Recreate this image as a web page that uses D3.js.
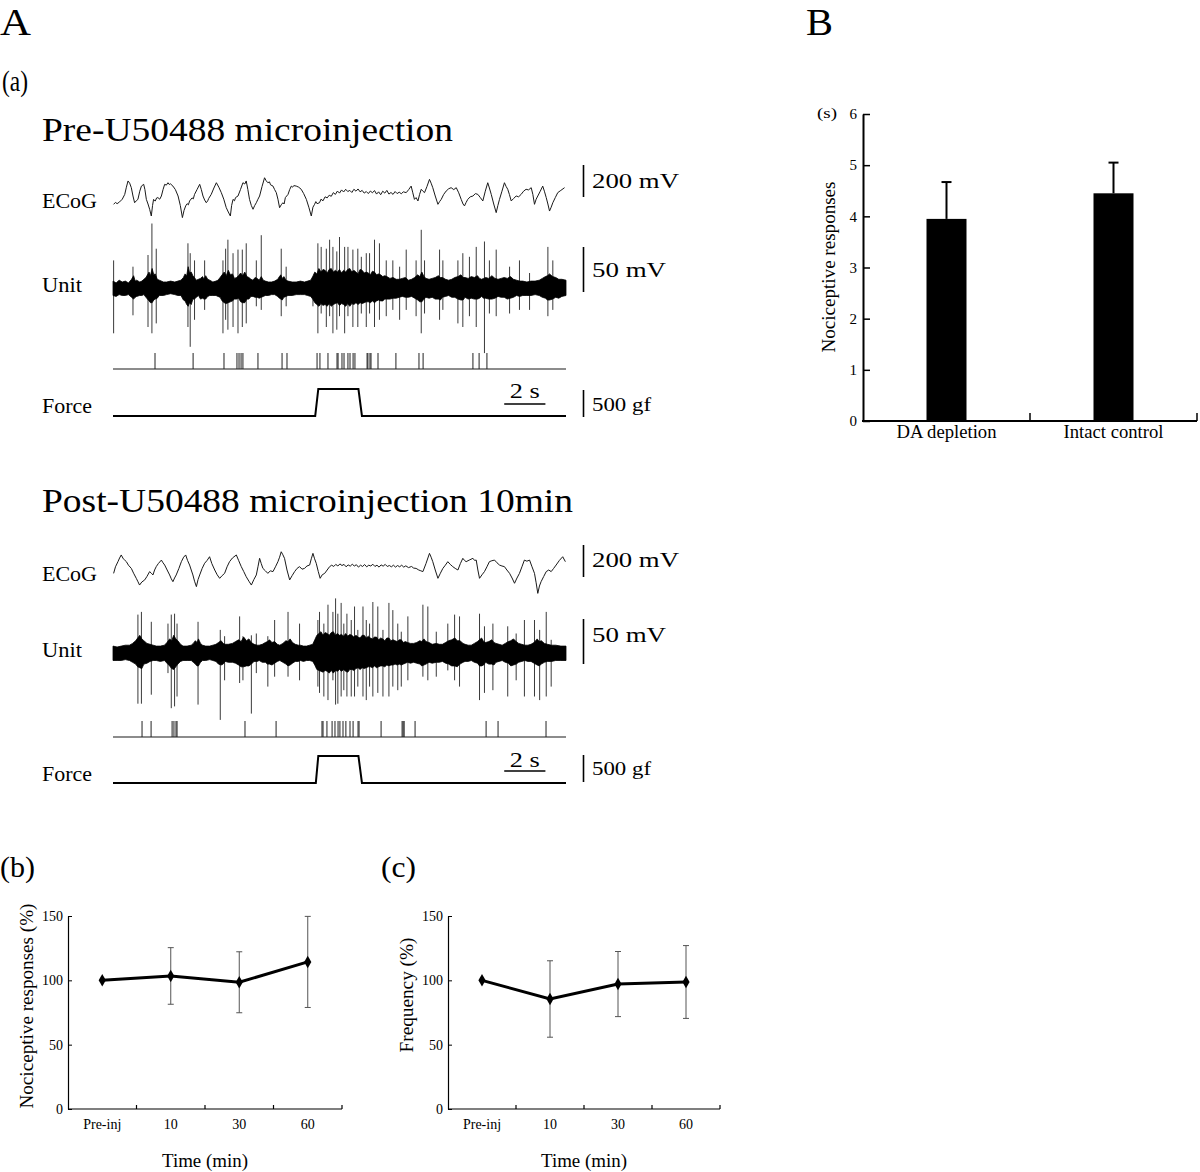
<!DOCTYPE html>
<html><head><meta charset="utf-8">
<script src="https://cdn.jsdelivr.net/npm/d3@7"></script>
<style>
body{margin:0;background:#fff}
svg{display:block}
text{font-family:"Liberation Serif","Times New Roman",serif;fill:#000}
</style>
</head><body>
<svg id="c" width="1200" height="1172"></svg>
<script>
// ---------------- DATA ----------------
// ECoG traces: [time (s), voltage (mV)]
const ecogPre = [[0.03,-52],[0.12,-40],[0.2,-48],[0.32,-37],[0.45,-20],[0.57,10],[0.65,55],[0.73,94],[0.81,80],[0.89,52],[0.97,0],[1.05,-42],[1.13,-30],[1.21,-21],[1.3,30],[1.38,62],[1.49,73],[1.55,40],[1.62,-21],[1.7,-50],[1.78,-83],[1.86,-125],[1.92,-60],[1.97,-21],[2.05,-32],[2.12,-12],[2.18,-10],[2.27,-20],[2.35,0],[2.43,40],[2.51,73],[2.59,68],[2.67,83],[2.73,72],[2.79,76],[2.91,62],[3.03,40],[3.16,0],[3.27,-60],[3.37,-135],[3.45,-90],[3.53,-62],[3.6,-48],[3.66,-55],[3.72,-31],[3.84,-12],[3.9,-18],[3.96,10],[4.08,40],[4.21,73],[4.29,40],[4.37,0],[4.45,-25],[4.53,-42],[4.6,-30],[4.65,-15],[4.77,10],[4.9,50],[5.02,83],[5.14,55],[5.26,21],[5.38,-20],[5.5,-73],[5.6,-100],[5.7,-125],[5.76,-60],[5.83,-21],[5.9,-30],[5.95,-10],[6.07,0],[6.19,40],[6.31,83],[6.4,75],[6.47,94],[6.55,40],[6.63,-21],[6.72,-60],[6.8,-83],[6.88,-60],[6.96,-42],[7.04,-20],[7.12,0],[7.24,60],[7.36,114],[7.44,95],[7.52,83],[7.6,88],[7.65,70],[7.77,62],[7.85,40],[7.93,21],[8.01,-20],[8.09,-73],[8.17,-55],[8.25,-42],[8.31,-50],[8.37,-10],[8.5,10],[8.58,40],[8.66,62],[8.72,55],[8.78,65],[8.9,62],[9.02,55],[9.14,42],[9.26,15],[9.39,-21],[9.51,-70],[9.63,-125],[9.71,-70],[9.79,-52],[9.85,-35],[9.91,-48],[10.03,-42],[10.1,-20],[10.2,-30],[10.3,-5],[10.4,-12],[10.5,5],[10.6,-2],[10.7,21],[10.8,10],[10.9,31],[11.0,18],[11.1,38],[11.2,25],[11.3,42],[11.4,28],[11.5,35],[11.6,22],[11.7,42],[11.8,30],[11.9,44],[12.0,26],[12.1,35],[12.2,18],[12.3,28],[12.4,15],[12.5,31],[12.6,20],[12.7,34],[12.8,12],[12.9,26],[13.0,8],[13.1,30],[13.2,18],[13.3,35],[13.4,12],[13.5,22],[13.6,10],[13.7,28],[13.8,15],[13.9,24],[14.0,14],[14.1,26],[14.24,21],[14.36,40],[14.48,62],[14.56,20],[14.64,-21],[14.72,-10],[14.81,-31],[14.89,10],[14.97,42],[15.05,30],[15.13,21],[15.25,60],[15.37,104],[15.45,80],[15.53,52],[15.65,0],[15.78,-52],[15.86,-35],[15.94,-21],[16.06,10],[16.18,31],[16.3,45],[16.42,52],[16.55,40],[16.67,52],[16.79,20],[16.91,-21],[17.0,-50],[17.07,-62],[17.15,-40],[17.23,-21],[17.35,-5],[17.48,0],[17.6,15],[17.72,10],[17.84,-10],[17.96,-31],[18.08,30],[18.2,83],[18.28,50],[18.37,10],[18.49,-50],[18.61,-104],[18.69,-60],[18.77,-21],[18.89,30],[19.01,83],[19.09,60],[19.17,42],[19.25,10],[19.34,-31],[19.46,-15],[19.58,0],[19.7,-5],[19.82,10],[19.94,30],[20.06,42],[20.18,38],[20.31,52],[20.39,10],[20.47,-52],[20.55,-20],[20.63,0],[20.75,30],[20.87,62],[20.95,30],[21.04,-10],[21.12,-50],[21.2,-94],[21.28,-70],[21.36,-42],[21.48,-10],[21.6,21],[21.75,35],[21.93,52]];

const ecogPost = [[0.03,-21],[0.12,20],[0.24,52],[0.32,75],[0.4,94],[0.5,70],[0.57,62],[0.65,52],[0.75,30],[0.89,10],[1.0,-20],[1.13,-52],[1.2,-70],[1.29,-94],[1.4,-75],[1.54,-62],[1.65,-40],[1.78,-10],[1.86,-20],[1.94,-31],[2.02,0],[2.1,21],[2.2,40],[2.35,62],[2.43,45],[2.51,31],[2.63,0],[2.75,-31],[2.83,-55],[2.91,-73],[2.99,-50],[3.07,-31],[3.2,10],[3.32,52],[3.43,80],[3.53,94],[3.62,60],[3.72,31],[3.8,0],[3.88,-31],[3.96,-70],[4.05,-104],[4.13,-60],[4.21,-31],[4.33,10],[4.45,42],[4.57,60],[4.69,83],[4.8,40],[4.94,0],[5.06,-30],[5.18,-52],[5.3,-35],[5.42,-21],[5.54,20],[5.66,52],[5.8,75],[5.99,94],[6.1,60],[6.23,21],[6.35,-10],[6.47,-42],[6.6,-70],[6.72,-94],[6.84,-60],[6.96,-31],[7.04,20],[7.12,73],[7.2,40],[7.28,10],[7.4,-5],[7.52,-21],[7.64,-5],[7.77,-10],[7.89,20],[8.01,52],[8.09,80],[8.17,114],[8.25,95],[8.33,73],[8.45,0],[8.58,-62],[8.7,-35],[8.82,-10],[8.94,10],[9.06,21],[9.18,5],[9.3,10],[9.42,25],[9.55,31],[9.63,70],[9.71,104],[9.79,70],[9.87,42],[9.97,-10],[10.06,-52],[10.16,-30],[10.28,-21],[10.4,0],[10.52,21],[10.62,30],[10.72,22],[10.82,35],[10.92,25],[11.02,38],[11.12,28],[11.22,35],[11.32,20],[11.42,32],[11.52,24],[11.62,36],[11.72,25],[11.82,33],[11.92,18],[12.02,30],[12.12,22],[12.22,34],[12.32,20],[12.42,30],[12.52,25],[12.62,36],[12.72,22],[12.82,30],[12.92,18],[13.02,32],[13.12,24],[13.22,35],[13.32,22],[13.42,28],[13.52,20],[13.62,30],[13.72,18],[13.82,28],[13.92,20],[14.02,30],[14.12,18],[14.22,26],[14.35,15],[14.5,22],[14.6,12],[14.72,10],[14.85,0],[14.95,-5],[15.05,-10],[15.2,40],[15.37,104],[15.45,80],[15.53,52],[15.65,0],[15.78,-52],[15.9,-20],[16.02,10],[16.14,30],[16.26,52],[16.38,35],[16.5,21],[16.62,10],[16.75,0],[16.87,40],[16.99,73],[17.07,60],[17.15,52],[17.3,62],[17.48,73],[17.56,60],[17.64,62],[17.72,0],[17.8,-52],[17.92,-30],[18.04,-10],[18.16,20],[18.28,52],[18.4,58],[18.53,62],[18.65,45],[18.77,31],[18.89,25],[19.01,21],[19.13,0],[19.26,-21],[19.38,-50],[19.5,-83],[19.62,-50],[19.74,-21],[19.86,20],[19.98,62],[20.1,55],[20.23,62],[20.35,20],[20.47,-21],[20.55,-80],[20.63,-146],[20.71,-100],[20.79,-73],[20.92,-40],[21.04,-10],[21.16,0],[21.28,-10],[21.4,10],[21.52,31],[21.68,60],[21.84,83],[21.97,52]];

// Unit background activity envelope: [time (s), upper (mV), lower (mV)]
const unitEnvPre = [[0,8,8],[0.15,6,9],[0.3,9,7],[0.45,7,8],[0.6,8,8],[0.75,6,7],[0.9,10,10],[1.0,14,12],[1.08,8,10],[1.15,9,9],[1.3,7,8],[1.4,8,8],[1.5,10,7],[1.6,12,10],[1.75,18,14],[1.82,14,16],[1.9,22,16],[1.98,15,13],[2.05,16,12],[2.15,10,11],[2.25,9,8],[2.45,7,8],[2.6,7,7],[2.8,8,6],[3.0,7,7],[3.15,8,8],[3.3,9,8],[3.42,12,13],[3.5,16,14],[3.58,14,18],[3.65,24,20],[3.72,17,16],[3.8,18,18],[3.88,14,12],[3.95,12,12],[4.05,9,10],[4.15,10,8],[4.25,11,12],[4.35,13,11],[4.42,10,12],[4.5,14,12],[4.6,10,9],[4.7,9,8],[4.85,7,8],[5.0,8,8],[5.1,9,9],[5.2,12,10],[5.3,15,14],[5.4,18,16],[5.5,14,17],[5.6,20,16],[5.7,15,15],[5.8,16,14],[5.9,11,12],[6.0,12,12],[6.1,14,11],[6.2,17,15],[6.3,14,16],[6.4,18,16],[6.5,13,12],[6.6,12,12],[6.7,10,9],[6.8,9,9],[6.9,12,10],[7.0,11,10],[7.1,9,11],[7.2,13,10],[7.3,9,9],[7.4,8,8],[7.55,7,8],[7.7,7,7],[7.85,8,7],[8.0,10,9],[8.08,13,11],[8.15,15,12],[8.22,11,13],[8.3,13,10],[8.4,9,9],[8.5,8,8],[8.7,7,8],[8.9,7,7],[9.1,8,7],[9.3,7,7],[9.45,8,8],[9.6,9,9],[9.7,13,12],[9.8,18,16],[9.9,16,18],[10.0,22,20],[10.1,18,17],[10.2,21,19],[10.3,20,18],[10.4,17,20],[10.5,21,17],[10.6,22,20],[10.7,18,18],[10.8,20,17],[10.9,18,16],[11.0,21,19],[11.1,17,17],[11.2,20,18],[11.3,18,20],[11.4,21,17],[11.5,22,20],[11.6,18,17],[11.7,20,18],[11.8,18,16],[11.9,16,18],[12.0,21,16],[12.1,20,17],[12.2,17,16],[12.3,18,15],[12.4,17,15],[12.5,15,16],[12.6,19,14],[12.7,18,16],[12.8,15,14],[12.9,16,13],[13.0,15,14],[13.1,13,14],[13.2,14,12],[13.3,13,12],[13.45,11,12],[13.6,12,11],[13.75,10,11],[13.9,10,10],[14.05,11,9],[14.2,12,10],[14.35,9,10],[14.5,10,9],[14.65,12,11],[14.8,15,13],[14.9,13,15],[15.0,18,15],[15.1,13,12],[15.2,11,10],[15.35,10,11],[15.5,11,10],[15.65,12,12],[15.8,14,12],[15.9,12,13],[16.0,12,10],[16.15,10,9],[16.3,9,8],[16.45,10,10],[16.6,12,10],[16.75,13,12],[16.9,15,13],[17.0,12,13],[17.1,12,10],[17.25,11,12],[17.4,13,11],[17.55,12,12],[17.7,14,12],[17.8,11,11],[17.9,10,9],[18.0,11,11],[18.1,12,11],[18.25,11,12],[18.4,14,12],[18.55,11,11],[18.7,10,9],[18.85,11,10],[19.0,12,10],[19.15,11,12],[19.3,13,11],[19.45,10,10],[19.6,9,8],[19.75,8,9],[19.9,8,8],[20.1,7,8],[20.3,8,8],[20.5,8,7],[20.7,9,8],[20.85,11,10],[21.0,13,11],[21.1,14,13],[21.2,16,13],[21.35,13,12],[21.5,12,10],[21.65,10,11],[21.8,10,9],[22.0,9,8]];

const unitEnvPost = [[0,8,8],[0.2,7,8],[0.4,8,8],[0.6,9,7],[0.8,9,8],[0.95,11,10],[1.1,14,12],[1.2,17,15],[1.3,20,16],[1.4,16,17],[1.5,14,12],[1.65,11,11],[1.8,10,9],[1.95,9,8],[2.1,8,8],[2.3,8,9],[2.5,9,8],[2.62,12,11],[2.75,16,14],[2.85,14,17],[2.95,20,18],[3.05,16,15],[3.15,14,12],[3.28,10,9],[3.4,8,8],[3.6,8,8],[3.8,9,8],[3.9,11,10],[4.0,14,12],[4.08,12,14],[4.15,16,14],[4.25,11,10],[4.35,9,8],[4.5,8,8],[4.7,8,7],[4.85,9,8],[5.0,10,9],[5.12,12,12],[5.25,14,13],[5.35,11,12],[5.45,10,9],[5.6,10,10],[5.8,11,10],[5.95,13,11],[6.1,15,13],[6.22,13,15],[6.35,18,15],[6.48,14,14],[6.6,16,14],[6.72,12,12],[6.85,10,9],[7.0,9,9],[7.1,9,8],[7.25,10,10],[7.4,12,10],[7.5,13,12],[7.6,15,12],[7.72,12,13],[7.85,13,11],[7.98,10,9],[8.1,9,8],[8.25,11,10],[8.4,14,12],[8.5,13,14],[8.6,16,13],[8.72,12,11],[8.85,10,9],[9.0,9,9],[9.1,9,8],[9.25,8,9],[9.4,8,8],[9.55,9,8],[9.7,10,9],[9.8,15,13],[9.9,20,18],[10.0,22,19],[10.1,24,20],[10.2,20,21],[10.3,23,19],[10.4,22,20],[10.5,20,22],[10.6,23,19],[10.7,24,22],[10.8,20,19],[10.9,22,20],[11.0,20,18],[11.1,21,20],[11.2,19,18],[11.3,22,20],[11.4,19,21],[11.5,21,18],[11.6,20,18],[11.7,18,19],[11.8,20,17],[11.9,18,16],[12.0,17,18],[12.1,20,16],[12.2,20,17],[12.3,17,16],[12.4,19,15],[12.5,17,15],[12.6,16,16],[12.7,18,14],[12.8,18,16],[12.9,15,15],[13.0,17,14],[13.1,16,14],[13.2,14,15],[13.3,17,13],[13.4,17,14],[13.5,14,13],[13.6,15,13],[13.7,14,12],[13.8,13,13],[13.9,15,12],[14.0,15,13],[14.1,12,12],[14.2,13,11],[14.3,12,10],[14.45,11,11],[14.6,11,10],[14.75,12,11],[14.9,14,12],[15.0,13,14],[15.1,16,13],[15.2,13,12],[15.35,12,10],[15.5,10,11],[15.7,11,10],[15.85,10,10],[16.0,10,9],[16.15,12,11],[16.3,14,12],[16.45,15,14],[16.6,17,14],[16.72,14,15],[16.85,14,12],[17.0,11,10],[17.1,10,9],[17.25,9,9],[17.4,9,8],[17.55,11,10],[17.7,13,11],[17.8,15,14],[17.9,17,14],[18.0,13,13],[18.1,12,10],[18.25,13,12],[18.4,15,12],[18.5,12,13],[18.6,11,10],[18.75,10,9],[18.9,9,8],[19.05,11,10],[19.2,13,11],[19.32,14,14],[19.45,16,13],[19.58,13,12],[19.7,11,10],[19.85,10,9],[20.0,9,8],[20.15,9,9],[20.3,10,9],[20.45,12,11],[20.6,16,13],[20.7,13,14],[20.8,14,12],[20.95,11,10],[21.1,10,9],[21.3,9,9],[21.5,9,8],[21.75,8,8],[22.0,8,8]];

// Unit spikes: [time (s), positive peak (mV), negative peak (mV)]
const spikesPre = [[0.03,31,50],[0.97,24,30],[1.70,37,43],[1.89,72,50],[2.10,44,39],[3.64,50,43],[3.75,39,65],[3.96,31,35],[4.45,31,24],[5.34,31,50],[5.47,44,35],[5.58,54,46],[5.83,39,43],[6.07,43,50],[6.28,43,43],[6.47,50,39],[6.96,31,20],[7.20,59,24],[8.17,44,31],[8.41,24,20],[9.71,13,20],[9.95,50,50],[10.11,46,28],[10.36,44,43],[10.52,54,31],[10.68,46,50],[10.87,41,46],[11.00,57,31],[11.25,46,50],[11.41,46,31],[11.65,43,43],[11.89,44,43],[12.06,35,28],[12.30,39,43],[12.46,39,28],[12.70,54,43],[12.94,50,35],[13.27,31,31],[13.59,31,24],[13.92,24,35],[14.24,43,24],[14.72,31,31],[14.97,65,50],[15.13,31,28],[15.86,43,35],[16.02,31,24],[16.75,31,39],[16.99,39,43],[17.31,35,31],[17.64,46,43],[18.04,52,72],[18.28,31,28],[18.61,43,31],[19.26,24,28],[19.74,31,24],[20.23,17,24],[21.12,46,31],[21.36,31,24]];

const spikesPost = [[1.21,43,56],[1.38,46,56],[1.86,35,46],[2.67,33,22],[2.83,43,61],[2.99,44,59],[3.11,33,48],[4.13,35,57],[5.21,26,74],[5.42,19,30],[6.15,41,33],[6.31,19,30],[6.72,20,67],[6.96,22,22],[7.52,19,37],[7.85,37,26],[8.50,46,26],[9.06,33,30],[9.95,37,37],[10.03,46,44],[10.24,33,48],[10.44,54,52],[10.68,46,30],[10.81,61,57],[10.92,44,56],[11.08,56,48],[11.21,33,41],[11.36,44,48],[11.57,37,48],[11.73,52,48],[11.89,26,37],[12.14,52,48],[12.30,37,52],[12.46,33,37],[12.62,57,48],[12.86,52,44],[13.11,26,48],[13.40,56,48],[13.59,48,37],[13.83,33,41],[14.00,24,37],[14.32,41,30],[15.05,54,26],[15.29,52,30],[15.70,24,26],[16.26,33,19],[16.59,43,30],[16.83,41,37],[17.80,44,52],[18.04,30,44],[18.45,33,41],[19.17,30,48],[19.58,22,30],[19.98,37,48],[20.47,37,48],[20.72,26,52],[21.04,46,48],[21.28,15,37]];

// Discriminated unit raster (spike times, s)
const rasterPre = [2.04,3.89,5.39,6.02,6.12,6.22,6.31,7.04,8.21,8.45,9.91,10.05,10.44,10.88,10.93,11.12,11.22,11.41,11.51,11.66,11.75,12.34,12.38,12.48,12.53,12.87,13.74,14.86,15.06,17.48,17.78,18.16];
const rasterPost = [1.41,1.85,2.87,2.96,3.06,3.11,6.41,7.92,10.15,10.20,10.39,10.64,10.78,10.93,11.02,11.17,11.31,11.51,11.66,11.90,11.95,13.02,14.04,14.09,14.14,14.67,18.12,18.70,21.03];

// Applied force: [time (s), force (gf)]
const forcePre = [[0,0],[9.82,0],[9.97,500],[11.92,500],[12.09,0],[22,0]];
const forcePost = [[0,0],[9.85,0],[9.97,500],[11.92,500],[12.09,0],[22,0]];

// Panel B: nociceptive responses (s)
const bCategories = ["DA depletion", "Intact control"];
const bMeans = [3.95, 4.45];
const bErrors = [0.72, 0.60];
const bTicks = [0,1,2,3,4,5,6];

// Panels (b) and (c)
const timeCategories = ["Pre-inj", "10", "30", "60"];
const nociMeans = [100, 103.4, 98.5, 114.3];
const nociErrors = [0, 22.0, 23.7, 35.4];
const freqMeans = [100, 85.5, 97.1, 98.7];
const freqErrors = [0, 29.7, 25.3, 28.3];
const pctTicks = [0, 50, 100, 150];

// ---------------- DRAWING ----------------
const svg = d3.select("#c");
const FONT = '"Liberation Serif","Times New Roman",serif';

function txt(x, y, s, size, opt) {
  opt = opt || {};
  const t = svg.append("text")
    .attr("x", x).attr("y", y)
    .attr("font-size", size)
    .attr("text-anchor", opt.anchor || "start")
    .text(s);
  if (opt.len) t.attr("textLength", opt.len).attr("lengthAdjust", "spacingAndGlyphs");
  if (opt.rot) t.attr("transform", `rotate(${opt.rot},${x},${y})`);
  return t;
}

// Panel letters
txt(0, 35, "A", 37, {len: 31});
txt(806, 35, "B", 37, {len: 27});
txt(2, 91, "(a)", 29, {len: 26});
txt(0, 877, "(b)", 30, {len: 35});
txt(381, 877, "(c)", 30, {len: 35});

// time scale shared by traces
const xT = d3.scaleLinear().domain([0, 22]).range([113, 566]);

function drawTraces(L, ecog, env, spikes, raster, force) {
  const g = svg.append("g");
  txt(42, L.titleY, L.title, 34, {len: L.titleLen});
  txt(42, L.ecogLabelY, "ECoG", 21, {len: 55});
  txt(42, L.unitLabelY, "Unit", 21, {len: 40});
  txt(42, L.forceLabelY, "Force", 21, {len: 50});

  // ECoG
  const yE = d3.scaleLinear().domain([0, 200]).range([L.ecogC, L.ecogC - 32]);
  g.append("path").datum(ecog)
    .attr("d", d3.line().x(d => xT(d[0])).y(d => yE(d[1])))
    .attr("fill", "none").attr("stroke", "#1a1a1a").attr("stroke-width", 1)
    .attr("stroke-linejoin", "round");

  // Unit
  const yU = d3.scaleLinear().domain([0, 50]).range([L.unitC, L.unitC - 45]);
  g.append("g").selectAll("line").data(spikes).join("line")
    .attr("x1", d => xT(d[0])).attr("x2", d => xT(d[0]))
    .attr("y1", d => yU(d[1])).attr("y2", d => yU(-d[2]))
    .attr("stroke", "#3a3a3a").attr("stroke-width", 1);
  g.append("path").datum(env)
    .attr("d", d3.area().x(d => xT(d[0])).y0(d => yU(-d[2])).y1(d => yU(d[1])))
    .attr("fill", "#000").attr("stroke", "#000").attr("stroke-width", 0.8);

  // raster
  g.append("line").attr("x1", xT(0)).attr("x2", xT(22))
    .attr("y1", L.rasterB).attr("y2", L.rasterB)
    .attr("stroke", "#666").attr("stroke-width", 1.5);
  g.append("g").selectAll("line").data(raster).join("line")
    .attr("x1", d => xT(d)).attr("x2", d => xT(d))
    .attr("y1", L.rasterB).attr("y2", L.rasterB - 16)
    .attr("stroke", "#222").attr("stroke-width", 1);

  // Force
  const yF = d3.scaleLinear().domain([0, 500]).range([L.forceB, L.forceB - 27]);
  g.append("path").datum(force)
    .attr("d", d3.line().x(d => xT(d[0])).y(d => yF(d[1])))
    .attr("fill", "none").attr("stroke", "#000").attr("stroke-width", 2);

  // 2 s time bar
  g.append("line").attr("x1", xT(19)).attr("x2", xT(21))
    .attr("y1", L.timeBarY).attr("y2", L.timeBarY)
    .attr("stroke", "#000").attr("stroke-width", 1.6);
  txt(xT(20), L.timeBarY - L.timeTextGap, "2 s", 21, {anchor: "middle", len: 30});

  // amplitude scale bars
  const bx = 583.5;
  const eLen = yE(0) - yE(200);
  g.append("line").attr("x1", bx).attr("x2", bx).attr("y1", L.ecogBarTop).attr("y2", L.ecogBarTop + eLen)
    .attr("stroke", "#000").attr("stroke-width", 1.6);
  txt(592, L.ecogBarText, "200 mV", 21, {len: 87});
  const uLen = yU(0) - yU(50);
  g.append("line").attr("x1", bx).attr("x2", bx).attr("y1", L.unitBarTop).attr("y2", L.unitBarTop + uLen)
    .attr("stroke", "#000").attr("stroke-width", 1.6);
  txt(592, L.unitBarText, "50 mV", 21, {len: 74});
  const fLen = yF(0) - yF(500);
  g.append("line").attr("x1", bx).attr("x2", bx).attr("y1", L.forceBarTop).attr("y2", L.forceBarTop + fLen)
    .attr("stroke", "#000").attr("stroke-width", 1.6);
  txt(592, L.forceBarText, "500 gf", 19, {len: 59});
}

drawTraces({
  title: "Pre-U50488 microinjection", titleY: 141, titleLen: 411,
  ecogLabelY: 208, unitLabelY: 292, forceLabelY: 413,
  ecogC: 196, unitC: 288.3, rasterB: 369, forceB: 416,
  timeBarY: 404, timeTextGap: 6,
  ecogBarTop: 165, ecogBarText: 188, unitBarTop: 247, unitBarText: 277,
  forceBarTop: 390, forceBarText: 411
}, ecogPre, unitEnvPre, spikesPre, rasterPre, forcePre);

drawTraces({
  title: "Post-U50488 microinjection 10min", titleY: 512, titleLen: 531,
  ecogLabelY: 581, unitLabelY: 657, forceLabelY: 781,
  ecogC: 570, unitC: 653.3, rasterB: 737, forceB: 783,
  timeBarY: 771, timeTextGap: 4,
  ecogBarTop: 545, ecogBarText: 567, unitBarTop: 619, unitBarText: 642,
  forceBarTop: 755, forceBarText: 775
}, ecogPost, unitEnvPost, spikesPost, rasterPost, forcePost);

// ---------- Panel B ----------
(function () {
  const x0 = 863, x1 = 1197, yTop = 114, yBot = 421;
  const y = d3.scaleLinear().domain([0, 6]).range([yBot, yTop]);
  const x = d3.scaleBand().domain(bCategories).range([x0, x1]);
  const g = svg.append("g");
  const ax = g.append("g").attr("transform", `translate(${x0},0)`)
    .call(d3.axisLeft(y).tickValues(bTicks).tickFormat(d3.format("d"))
      .tickSizeInner(-7).tickSizeOuter(0).tickPadding(6));
  ax.select(".domain").attr("stroke-width", 2);
  ax.selectAll(".tick line").attr("stroke-width", 1.5);
  ax.selectAll(".tick text").attr("font-family", FONT).attr("font-size", 15).attr("fill", "#222");
  g.append("line").attr("x1", x0 - 1).attr("x2", x1).attr("y1", yBot).attr("y2", yBot)
    .attr("stroke", "#000").attr("stroke-width", 2);
  g.selectAll(".bt").data(bCategories).join("line")
    .attr("x1", d => x(d) + x.bandwidth()).attr("x2", d => x(d) + x.bandwidth())
    .attr("y1", yBot).attr("y2", yBot - 8).attr("stroke", "#000").attr("stroke-width", 1.5);
  const bw = 40;
  bCategories.forEach((c, i) => {
    const cx = x(c) + x.bandwidth() / 2;
    g.append("line").attr("x1", cx).attr("x2", cx).attr("y1", y(bMeans[i])).attr("y2", y(bMeans[i] + bErrors[i]))
      .attr("stroke", "#000").attr("stroke-width", 2);
    g.append("line").attr("x1", cx - 5).attr("x2", cx + 5)
      .attr("y1", y(bMeans[i] + bErrors[i])).attr("y2", y(bMeans[i] + bErrors[i]))
      .attr("stroke", "#000").attr("stroke-width", 2);
    g.append("rect").attr("x", cx - bw / 2).attr("width", bw)
      .attr("y", y(bMeans[i])).attr("height", yBot - y(bMeans[i])).attr("fill", "#000");
    txt(cx, 438, c, 18, {anchor: "middle", len: 100});
  });
  txt(817, 118, "(s)", 15, {len: 20});
  txt(835, 267, "Nociceptive responses", 19, {anchor: "middle", rot: -90, len: 171});
})();

// ---------- Panels (b) and (c) ----------
function linePanel(x0, x1, means, errs, ylabel, ylabLen, ylabX, ylabY) {
  const yTop = 916, yBot = 1109;
  const y = d3.scaleLinear().domain([0, 150]).range([yBot, yTop]);
  const x = d3.scaleBand().domain(timeCategories).range([x0, x1]);
  const g = svg.append("g");
  const ax = g.append("g").attr("transform", `translate(${x0},0)`)
    .call(d3.axisLeft(y).tickValues(pctTicks).tickSizeInner(-4).tickSizeOuter(0).tickPadding(5));
  ax.select(".domain").attr("stroke-width", 1.2);
  ax.selectAll(".tick text").attr("font-family", FONT).attr("font-size", 14).attr("fill", "#222");
  g.append("line").attr("x1", x0).attr("x2", x1).attr("y1", yBot).attr("y2", yBot)
    .attr("stroke", "#000").attr("stroke-width", 1.2);
  g.selectAll(".bt").data(timeCategories).join("line")
    .attr("x1", d => x(d) + x.bandwidth()).attr("x2", d => x(d) + x.bandwidth())
    .attr("y1", yBot).attr("y2", yBot - 4).attr("stroke", "#000").attr("stroke-width", 1.2);
  timeCategories.forEach(c => {
    txt(x(c) + x.bandwidth() / 2, 1129, c, 14, {anchor: "middle"}).attr("fill", "#222");
  });
  const pts = timeCategories.map((c, i) => ({cx: x(c) + x.bandwidth() / 2, m: means[i], e: errs[i]}));
  pts.filter(p => p.e > 0).forEach(p => {
    g.append("line").attr("x1", p.cx).attr("x2", p.cx).attr("y1", y(p.m + p.e)).attr("y2", y(p.m - p.e))
      .attr("stroke", "#555").attr("stroke-width", 1);
    [p.m + p.e, p.m - p.e].forEach(v => g.append("line")
      .attr("x1", p.cx - 3).attr("x2", p.cx + 3).attr("y1", y(v)).attr("y2", y(v))
      .attr("stroke", "#555").attr("stroke-width", 1));
  });
  g.append("path").datum(pts).attr("d", d3.line().x(p => p.cx).y(p => y(p.m)))
    .attr("fill", "none").attr("stroke", "#000").attr("stroke-width", 3);
  g.selectAll(".mk").data(pts).join("path")
    .attr("transform", p => `translate(${p.cx},${y(p.m)})`)
    .attr("d", d3.symbol(d3.symbolDiamond, 45)).attr("fill", "#000");
  txt((x0 + x1) / 2, 1167, "Time (min)", 19, {anchor: "middle", len: 86});
  txt(ylabX, ylabY, ylabel, 19, {anchor: "middle", rot: -90, len: ylabLen});
}
linePanel(68, 342, nociMeans, nociErrors, "Nociceptive responses (%)", 205, 33, 1006);
linePanel(448, 720, freqMeans, freqErrors, "Frequency (%)", 115, 413, 995);
</script>
</body></html>
